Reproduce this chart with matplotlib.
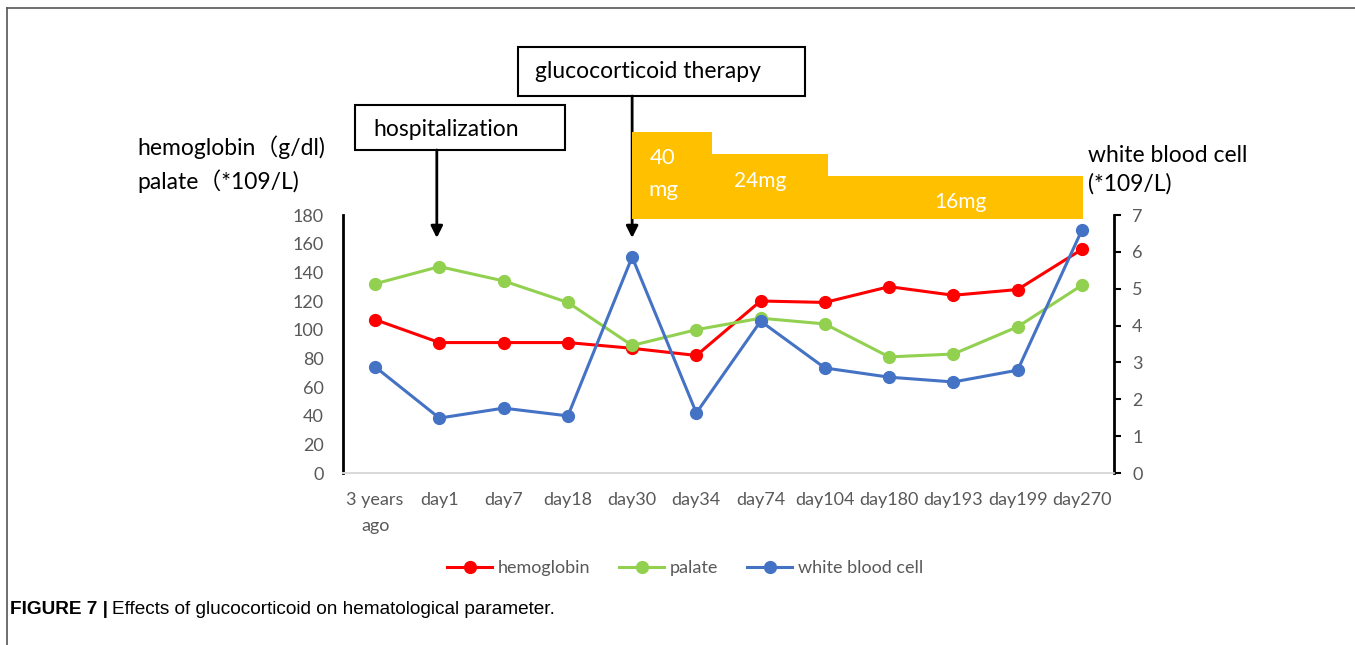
import matplotlib
matplotlib.use("Agg")
import matplotlib.pyplot as plt
from matplotlib.lines import Line2D
from matplotlib.patches import Rectangle

plt.rcParams['font.family'] = ['Lato', 'Noto Sans CJK SC', 'DejaVu Sans']

# data
days = ['3 years\nago', 'day1', 'day7', 'day18', 'day30', 'day34', 'day74',
        'day104', 'day180', 'day193', 'day199', 'day270']
hemoglobin = [107, 91, 91, 91, 87, 82, 120, 119, 130, 124, 128, 156]
palate = [132, 144, 134, 119, 89, 100, 108, 104, 81, 83, 102, 131]
wbc = [2.88, 1.49, 1.76, 1.55, 5.86, 1.63, 4.12, 2.85, 2.60, 2.47, 2.79, 6.59]

# glucocorticoid dose periods (in category index units) and relative step level
dose_labels = ['40\nmg', '24mg', '16mg']
dose_start = [4, 5.25, 7.05]
dose_end = [5.25, 7.05, 11.02]
dose_level = [4, 3, 2]

RED = '#FF0000'
GREEN = '#92D050'
BLUE = '#4472C4'
GOLD = '#FFC000'
GREY = '#595959'
TXT = 16.5

W, H = 1355, 645
fig = plt.figure(figsize=(W / 100, H / 100), dpi=100)

def fx(px):
    return px / W

def fy(py):
    return 1 - py / H

ax = fig.add_axes([fx(343), fy(473), fx(1114) - fx(343), fy(215) - fy(473)])
x = list(range(len(days)))

ax.plot(x, hemoglobin, color=RED, lw=2.2, marker='o', ms=8.5, label='hemoglobin')
ax.plot(x, palate, color=GREEN, lw=2.2, marker='o', ms=8.5, label='palate')
ax.set_ylim(0, 180)
ax.set_yticks(range(0, 181, 20))
ax.set_xlim(-0.5, 11.5)
ax.set_xticks(x)
ax.set_xticklabels(days, linespacing=1.7)

ax2 = ax.twinx()
ax2.plot(x, wbc, color=BLUE, lw=2.2, marker='o', ms=8.5, label='white blood cell')
ax2.set_ylim(0, 7)
ax2.set_yticks(range(0, 8))

for a in (ax, ax2):
    a.spines['top'].set_visible(False)
    a.spines['bottom'].set_color('#D9D9D9')
    a.spines['bottom'].set_linewidth(1.2)
ax.spines['right'].set_visible(False)
ax.spines['left'].set_linewidth(2)
ax2.spines['left'].set_visible(False)
ax2.spines['right'].set_linewidth(2)

ax.tick_params(axis='y', length=0, pad=14, labelsize=13, labelcolor=GREY)
ax.tick_params(axis='x', length=0, pad=14, labelsize=13, labelcolor=GREY)
ax2.tick_params(axis='y', length=5, width=1.5, pad=8, labelsize=13, labelcolor=GREY)

# dose steps
axd = fig.add_axes([fx(343), fy(219), fx(1114) - fx(343), fy(132) - fy(219)], sharex=ax)
axd.bar(dose_start, dose_level,
        width=[e - s for s, e in zip(dose_start, dose_end)], align='edge',
        color=GOLD, linewidth=0)
axd.set_ylim(0, 4)
axd.axis('off')
axd.text(dose_start[0] + 0.27, 2.8, '40', color='white', fontsize=16, va='center', ha='left')
axd.text(dose_start[0] + 0.25, 1.35, 'mg', color='white', fontsize=16, va='center', ha='left')
axd.text((dose_start[1] + dose_end[1]) / 2 - 0.15, 1.75, dose_labels[1], color='white',
         fontsize=15, va='center', ha='center')
axd.text((dose_start[2] + dose_end[2]) / 2 + 0.07, 0.8, dose_labels[2], color='white',
         fontsize=15, va='center', ha='center')

# event boxes
fig.patches.append(Rectangle((fx(355), fy(150)), fx(565) - fx(355), fy(105) - fy(150),
                             transform=fig.transFigure, fill=False, ec='black', lw=1.5))
fig.text(fx(373), fy(129), 'hospitalization', fontsize=TXT, va='center', ha='left')
fig.patches.append(Rectangle((fx(518), fy(96)), fx(805) - fx(518), fy(47) - fy(96),
                             transform=fig.transFigure, fill=False, ec='black', lw=1.5))
fig.text(fx(535), fy(72), 'glucocorticoid therapy', fontsize=TXT, va='center', ha='left')

arrow = dict(arrowstyle='-|>,head_width=0.35,head_length=0.7', color='black', lw=2,
             shrinkA=0, shrinkB=0)
ax.annotate('', xy=(0.96, 164), xycoords='data', xytext=(0.96, fy(150)),
            textcoords=('data', 'figure fraction'), arrowprops=arrow, annotation_clip=False)
ax.annotate('', xy=(4, 164), xycoords='data', xytext=(4, fy(96)),
            textcoords=('data', 'figure fraction'), arrowprops=arrow, annotation_clip=False)

# axis titles
fig.text(fx(137), fy(147), 'hemoglobin（g/dl)', fontsize=TXT, va='center', ha='left')
fig.text(fx(137), fy(181), 'palate（*109/L)', fontsize=TXT, va='center', ha='left')
fig.text(fx(1088), fy(155), 'white blood cell', fontsize=TXT, va='center', ha='left')
fig.text(fx(1088), fy(184), '(*109/L)', fontsize=TXT, va='center', ha='left')

# legend
handles = ax.get_lines() + ax2.get_lines()
leg = fig.legend(handles, [h.get_label() for h in handles], loc='center',
                 bbox_to_anchor=(fx(685), fy(568)), ncol=3, frameon=False,
                 fontsize=13, handlelength=2.5, columnspacing=1.6, handletextpad=0.3)
for t in leg.get_texts():
    t.set_color(GREY)

# outer frame and caption
fig.add_artist(Line2D([fx(7), 1], [fy(8), fy(8)], color='#555555', lw=1.2,
                      transform=fig.transFigure))
fig.add_artist(Line2D([fx(7), fx(7)], [fy(8), 0], color='#555555', lw=1.2,
                      transform=fig.transFigure))
cap_font = ['Liberation Sans Narrow', 'Liberation Sans']
t1 = fig.text(fx(10), fy(610), 'FIGURE 7 |', fontsize=13.7, fontweight='bold',
              family=cap_font, va='center', ha='left')
fig.canvas.draw()
bb = t1.get_window_extent()
fig.text(bb.x1 / W + fx(4), fy(610), 'Effects of glucocorticoid on hematological parameter.',
         fontsize=13.7, family=cap_font, va='center', ha='left')

fig.savefig('out.png', dpi=100)
